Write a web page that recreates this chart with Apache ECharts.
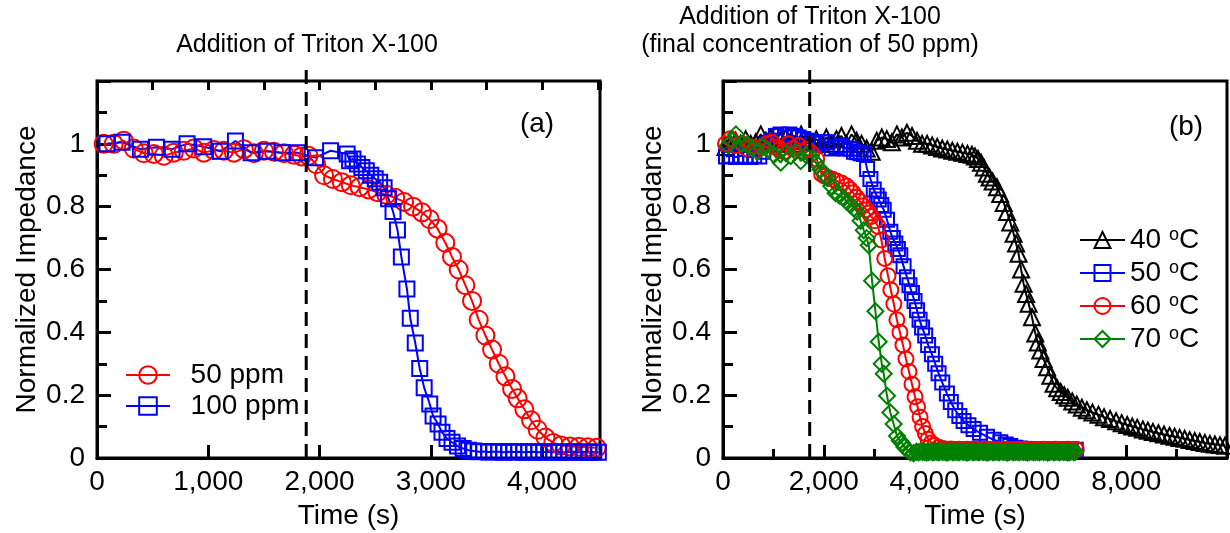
<!DOCTYPE html>
<html>
<head>
<meta charset="utf-8">
<script src="https://cdn.jsdelivr.net/npm/echarts@6.0.0/dist/echarts.min.js"></script>
<style>
  html, body { margin: 0; padding: 0; background: #fff; }
  #chart { width: 1230px; height: 533px; }
</style>
</head>
<body>
<div id="chart"></div>
<script>
/* Two panels of normalized impedance vs time after Triton X-100 addition.
   (a) two surfactant concentrations, (b) four temperatures at 50 ppm. */

const FONT = '"Liberation Sans", Arial, Helvetica, sans-serif';

// ── Panel (a): [time s, normalized impedance] ──
const ppm50 = [
  [60,1.0],[150,1.0],[240,1.01],[330,0.985],[420,0.97],[510,0.968],[600,0.962],[690,0.972],
  [780,0.978],[870,0.985],[960,0.972],[1050,0.98],[1140,0.978],[1230,0.972],[1320,0.983],
  [1410,0.97],[1500,0.978],[1590,0.975],[1680,0.97],[1770,0.965],[1840,0.96],[1900,0.962],
  [1970,0.935],[2040,0.9],[2120,0.888],[2200,0.878],[2280,0.868],[2360,0.862],[2440,0.855],
  [2520,0.846],[2600,0.838],[2680,0.828],[2760,0.815],[2840,0.8],[2920,0.782],[2990,0.76],
  [3060,0.73],[3130,0.685],[3190,0.64],[3250,0.6],[3310,0.55],[3370,0.5],[3430,0.44],
  [3490,0.39],[3550,0.345],[3610,0.3],[3670,0.26],[3730,0.22],[3780,0.19],[3840,0.155],
  [3900,0.12],[3960,0.09],[4030,0.065],[4100,0.048],[4170,0.04],[4250,0.037],[4330,0.036],
  [4410,0.034],[4490,0.033]
];
const ppm100 = [
  [90,1.0],[225,1.005],[390,0.983],[534,0.989],[674,0.983],[809,1.0],[959,0.991],[1109,0.976],
  [1244,1.009],[1385,0.972],[1529,0.976],[1664,0.972],[1799,0.972],[1963,0.956],[2099,0.978],
  [2248,0.968],[2270,0.946],[2300,0.952],[2340,0.936],[2380,0.925],[2420,0.914],[2460,0.9],
  [2500,0.889],[2540,0.878],[2580,0.86],[2620,0.825],[2660,0.785],[2700,0.726],[2735,0.64],
  [2785,0.538],[2815,0.445],[2860,0.366],[2900,0.285],[2940,0.224],[2990,0.172],[3020,0.134],
  [3065,0.108],[3100,0.082],[3145,0.062],[3190,0.05],[3240,0.038],[3290,0.03],[3340,0.025],
  [3385,0.022],[3430,0.02],[3475,0.021],[3520,0.019],[3565,0.02],[3610,0.02],[3655,0.018],
  [3700,0.02],[3745,0.019],[3790,0.02],[3835,0.018],[3880,0.019],[3925,0.02],[3970,0.018],
  [4015,0.019],[4060,0.02],[4105,0.018],[4150,0.019],[4195,0.018],[4240,0.019],[4285,0.02],
  [4330,0.018],[4375,0.019],[4420,0.018],[4465,0.019],[4505,0.018]
];

// ── Panel (b): [time s, normalized impedance] ──
const c40 = [
  [50,0.99],[150,1.0],[250,1.01],[350,1.0],[450,1.015],[550,1.0],[650,1.005],[750,1.03],
  [850,1.01],[950,1.02],[1050,1.0],[1150,1.015],[1250,1.02],[1350,1.01],[1450,1.0],[1550,1.03],
  [1650,1.01],[1750,1.005],[1850,1.015],[1950,1.0],[2050,1.02],[2150,1.0],[2250,1.015],
  [2350,1.025],[2450,1.0],[2550,1.03],[2650,1.01],[2750,1.0],[2850,0.985],[2950,0.975],
  [3050,1.01],[3150,1.02],[3250,1.015],[3350,1.005],[3450,1.03],[3550,1.02],[3650,1.035],
  [3750,1.025],[3850,1.01],[3950,1.0],[4050,1.0],[4150,0.995],[4250,0.99],[4350,0.985],
  [4450,0.982],[4550,0.978],[4650,0.975],[4750,0.972],[4850,0.968],[4940,0.965],[5000,0.96],
  [5060,0.952],[5120,0.94],[5175,0.925],[5237,0.905],[5290,0.893],[5350,0.88],[5436,0.862],
  [5500,0.84],[5570,0.812],[5634,0.783],[5700,0.75],[5766,0.714],[5815,0.683],[5865,0.65],
  [5915,0.6],[5964,0.555],[6014,0.522],[6064,0.491],[6131,0.448],[6197,0.396],[6246,0.368],
  [6296,0.342],[6360,0.315],[6429,0.289],[6495,0.262],[6560,0.236],[6630,0.222],[6700,0.21],
  [6770,0.2],[6840,0.192],[6930,0.18],[7020,0.17],[7120,0.16],[7220,0.152],[7330,0.145],
  [7450,0.138],[7560,0.13],[7680,0.124],[7800,0.117],[7910,0.111],[8020,0.105],[8120,0.1],
  [8220,0.096],[8330,0.091],[8430,0.087],[8530,0.083],[8640,0.079],[8750,0.075],[8860,0.071],
  [8960,0.068],[9060,0.064],[9160,0.061],[9260,0.057],[9360,0.054],[9460,0.051],[9560,0.048],
  [9660,0.045],[9760,0.043],[9860,0.041],[9960,0.039]
];
const c50 = [
  [60,0.96],[160,0.962],[260,0.958],[355,0.962],[450,0.96],[540,0.958],[619,0.962],[720,0.96],
  [800,0.975],[883,1.0],[960,1.01],[1050,1.025],[1140,1.03],[1230,1.02],[1320,1.03],[1410,1.025],
  [1500,1.02],[1590,1.015],[1680,1.01],[1770,1.005],[1860,1.0],[1950,1.005],[2069,1.005],
  [2160,0.985],[2250,0.99],[2332,0.995],[2420,0.985],[2530,0.984],[2600,0.975],[2661,0.973],
  [2730,0.97],[2793,0.968],[2859,0.92],[2925,0.888],[2991,0.855],[3050,0.835],[3090,0.823],
  [3140,0.805],[3189,0.79],[3254,0.758],[3320,0.72],[3370,0.7],[3419,0.683],[3470,0.665],
  [3518,0.645],[3583,0.61],[3650,0.575],[3700,0.55],[3749,0.525],[3800,0.5],[3850,0.47],
  [3900,0.44],[3950,0.415],[4012,0.39],[4070,0.36],[4145,0.33],[4210,0.3],[4277,0.27],
  [4350,0.24],[4443,0.205],[4520,0.178],[4608,0.152],[4690,0.134],[4773,0.118],[4870,0.104],
  [4972,0.092],[5100,0.08],[5237,0.068],[5370,0.058],[5502,0.05],[5610,0.043],[5700,0.038],
  [5800,0.033],[5900,0.03],[6000,0.028],[6100,0.027],[6200,0.027],[6300,0.026],[6400,0.027],
  [6500,0.026],[6600,0.027],[6700,0.026],[6800,0.026],[6900,0.027],[7000,0.026]
];
const c60 = [
  [50,1.0],[145,1.016],[250,0.995],[376,1.0],[470,0.985],[573,0.99],[670,0.98],[771,0.99],
  [870,1.0],[968,1.005],[1050,0.99],[1133,0.983],[1210,0.975],[1298,1.0],[1400,0.985],
  [1496,0.995],[1580,0.975],[1660,0.983],[1760,0.97],[1858,0.952],[1957,0.903],[2020,0.897],
  [2089,0.892],[2170,0.887],[2253,0.882],[2350,0.875],[2451,0.866],[2520,0.855],[2582,0.844],
  [2650,0.83],[2714,0.817],[2780,0.803],[2846,0.79],[2900,0.78],[2945,0.769],[3010,0.755],
  [3077,0.737],[3143,0.694],[3209,0.635],[3274,0.58],[3330,0.535],[3390,0.49],[3450,0.44],
  [3510,0.4],[3570,0.36],[3630,0.315],[3690,0.275],[3750,0.235],[3810,0.195],[3860,0.163],
  [3910,0.13],[3960,0.1],[4015,0.078],[4070,0.06],[4130,0.048],[4200,0.04],[4280,0.034],
  [4360,0.03],[4440,0.028],[4520,0.029],[4600,0.027],[4680,0.028],[4760,0.027],[4840,0.028],
  [4920,0.027],[5000,0.028],[5080,0.027],[5160,0.028],[5240,0.027],[5320,0.027],[5400,0.028],
  [5480,0.027],[5560,0.027],[5640,0.028],[5720,0.027],[5800,0.027],[5880,0.028],[5960,0.027],
  [6040,0.027],[6120,0.028],[6200,0.027],[6280,0.027],[6360,0.028],[6440,0.027],[6520,0.027],
  [6600,0.028],[6680,0.027],[6760,0.027],[6840,0.028],[6920,0.027],[7010,0.027]
];
const c70 = [
  [99,0.995],[180,1.01],[257,1.03],[370,1.0],[488,0.998],[590,0.985],[685,0.976],[790,0.99],
  [883,0.982],[1010,0.965],[1146,0.94],[1250,0.97],[1344,0.961],[1440,0.975],[1542,0.945],
  [1640,0.965],[1739,0.961],[1840,0.94],[1937,0.918],[2000,0.905],[2069,0.891],[2150,0.865],
  [2233,0.843],[2310,0.835],[2398,0.827],[2460,0.815],[2530,0.805],[2600,0.795],[2661,0.784],
  [2730,0.755],[2793,0.725],[2850,0.7],[2892,0.677],[2958,0.564],[3024,0.467],[3090,0.37],
  [3150,0.3],[3189,0.268],[3254,0.198],[3320,0.145],[3386,0.108],[3452,0.07],[3510,0.055],
  [3551,0.048],[3600,0.035],[3650,0.027],[3720,0.018],[3781,0.015],
  [3840,0.02],[3880,0.018],[3920,0.021],[3960,0.019],[4000,0.02],[4040,0.017],[4080,0.019],
  [4120,0.021],[4160,0.018],[4200,0.02],[4240,0.02],[4280,0.018],[4320,0.021],[4360,0.019],
  [4400,0.02],[4440,0.017],[4480,0.019],[4520,0.021],[4560,0.018],[4600,0.02],[4640,0.02],
  [4680,0.018],[4720,0.021],[4760,0.019],[4800,0.02],[4840,0.017],[4880,0.019],[4920,0.021],
  [4960,0.018],[5000,0.02],[5040,0.02],[5080,0.018],[5120,0.021],[5160,0.019],[5200,0.02],
  [5240,0.017],[5280,0.019],[5320,0.021],[5360,0.018],[5400,0.02],[5440,0.02],[5480,0.018],
  [5520,0.021],[5560,0.019],[5600,0.02],[5640,0.017],[5680,0.019],[5720,0.021],[5760,0.018],
  [5800,0.02],[5840,0.02],[5880,0.018],[5920,0.021],[5960,0.019],[6000,0.02],[6040,0.017],
  [6080,0.019],[6120,0.021],[6160,0.018],[6200,0.02],[6240,0.02],[6280,0.018],[6320,0.021],
  [6360,0.019],[6400,0.02],[6440,0.017],[6480,0.019],[6520,0.021],[6560,0.018],[6600,0.02],
  [6640,0.02],[6680,0.018],[6720,0.021],[6760,0.019],[6800,0.02],[6840,0.017],[6880,0.019],
  [6920,0.021],[6960,0.018],[6990,0.02]
];

// time of surfactant addition (dashed markers) and how far above the frame they reach
const additionA = 1880;
const additionB = 1720;
const additionTopA = 1.26;
const additionTopB = 1.25;

const xMaxA = 4520;
const xMaxB = 10000;

// ── option builders ──
const tickText = { color: '#000', fontFamily: FONT, fontSize: 28 };
const black3 = { color: '#000', width: 3 };

function timeAxis(grid, max, interval, minor) {
  return {
    type: 'value', gridIndex: grid, min: 0, max, interval,
    name: 'Time (s)', nameLocation: 'middle', nameGap: 44,
    nameTextStyle: { ...tickText },
    axisLine: { show: true, lineStyle: black3 },
    axisTick: { show: true, inside: true, length: 13, lineStyle: black3 },
    minorTick: minor ? { show: true, splitNumber: 2, length: 9, lineStyle: black3 } : { show: false },
    axisLabel: {
      ...tickText, margin: 10, showMaxLabel: false,
      formatter: v => (v % 1000 === 0 ? v.toLocaleString('en-US') : ''),
    },
    splitLine: { show: false },
  };
}

// only the 500 s minor ticks of panel (a); max isn't a whole multiple of 1000
function minorTimeAxis(grid, max) {
  return {
    type: 'value', gridIndex: grid, min: 0, max, interval: 500,
    axisLine: { show: false },
    axisTick: { show: true, inside: true, length: 9, lineStyle: black3 },
    axisLabel: { show: false },
    splitLine: { show: false },
  };
}

function impedanceAxis(grid) {
  return {
    type: 'value', gridIndex: grid, min: 0, max: 1.2, interval: 0.2,
    name: 'Normalized Impedance', nameLocation: 'middle', nameGap: 56,
    nameTextStyle: { ...tickText },
    axisLine: { show: true, lineStyle: black3 },
    axisTick: { show: true, inside: true, length: 14, lineStyle: black3 },
    minorTick: { show: true, splitNumber: 2, length: 10, lineStyle: black3 },
    axisLabel: {
      ...tickText, margin: 12, showMaxLabel: false,
      formatter: v => (v > 1.1 ? '' : String(Math.round(v * 10) / 10)),
    },
    splitLine: { show: false },
  };
}

function curve(name, data, xi, yi, symbol, size, color) {
  return {
    name, type: 'line', xAxisIndex: xi, yAxisIndex: yi, data,
    symbol, symbolSize: size, showSymbol: true, showAllSymbol: true,
    lineStyle: { color, width: 2 },
    itemStyle: { color: 'rgba(0,0,0,0)', borderColor: color, borderWidth: 2 },
    emphasis: { disabled: true },
    animation: false,
  };
}

function additionLine(t, top, xi, yi) {
  return {
    type: 'line', xAxisIndex: xi, yAxisIndex: yi,
    data: [[t, 0], [t, top]],
    symbol: 'none', clip: false, silent: true, z: 5,
    lineStyle: { color: '#000', width: 3, type: [14, 8] },
    animation: false,
  };
}

function label(text, x, y, size) {
  return {
    type: 'text', x, y, silent: true,
    style: {
      text, fill: '#000', fontFamily: FONT, fontSize: size,
      align: 'center', verticalAlign: 'middle',
    },
  };
}

const chart = echarts.init(document.getElementById('chart'), null, { renderer: 'canvas' });

chart.setOption({
  backgroundColor: '#fff',
  animation: false,
  grid: [
    { left: 97, top: 81, width: 503, height: 377, show: true, borderColor: '#000', borderWidth: 3,
      containLabel: false, outerBoundsMode: 'none' },
    { left: 723, top: 81, width: 504, height: 377, show: true, borderColor: '#000', borderWidth: 3,
      containLabel: false, outerBoundsMode: 'none' },
  ],
  xAxis: [
    timeAxis(0, xMaxA, 1000, false),
    minorTimeAxis(0, xMaxA),
    timeAxis(1, xMaxB, 2000, true),
  ],
  yAxis: [impedanceAxis(0), impedanceAxis(1)],
  legend: [
    {
      data: ['50 ppm', '100 ppm'], orient: 'vertical', left: 120, top: 356,
      itemWidth: 44, itemHeight: 22, itemGap: 3,
      formatter: n => '  ' + n,
      textStyle: { ...tickText },
    },
    {
      data: ['40 °C', '50 °C', '60 °C', '70 °C'], orient: 'vertical', left: 1074, top: 221,
      itemWidth: 45, itemHeight: 20, itemGap: 5,
      formatter: n => n.replace('°', '{o|o}'),
      textStyle: {
        ...tickText,
        rich: { o: { fontFamily: FONT, fontSize: 18, color: '#000', verticalAlign: 'top', lineHeight: 14 } },
      },
    },
  ],
  series: [
    curve('50 ppm', ppm50, 0, 0, 'circle', 18, '#ff0000'),
    curve('100 ppm', ppm100, 0, 0, 'rect', 15, '#0000ff'),
    additionLine(additionA, additionTopA, 0, 0),
    curve('40 °C', c40, 2, 1, 'triangle', 16, '#000000'),
    curve('50 °C', c50, 2, 1, 'rect', 14, '#0000ff'),
    curve('60 °C', c60, 2, 1, 'circle', 15, '#ff0000'),
    curve('70 °C', c70, 2, 1, 'diamond', 16, '#008000'),
    additionLine(additionB, additionTopB, 2, 1),
  ],
  graphic: [
    label('Addition of Triton X-100', 307, 45, 25),
    label('Addition of Triton X-100', 810, 17, 25),
    label('(final concentration of 50 ppm)', 810, 45, 25),
    label('(a)', 537, 124, 28),
    label('(b)', 1186, 127, 28),
  ],
});
</script>
</body>
</html>
